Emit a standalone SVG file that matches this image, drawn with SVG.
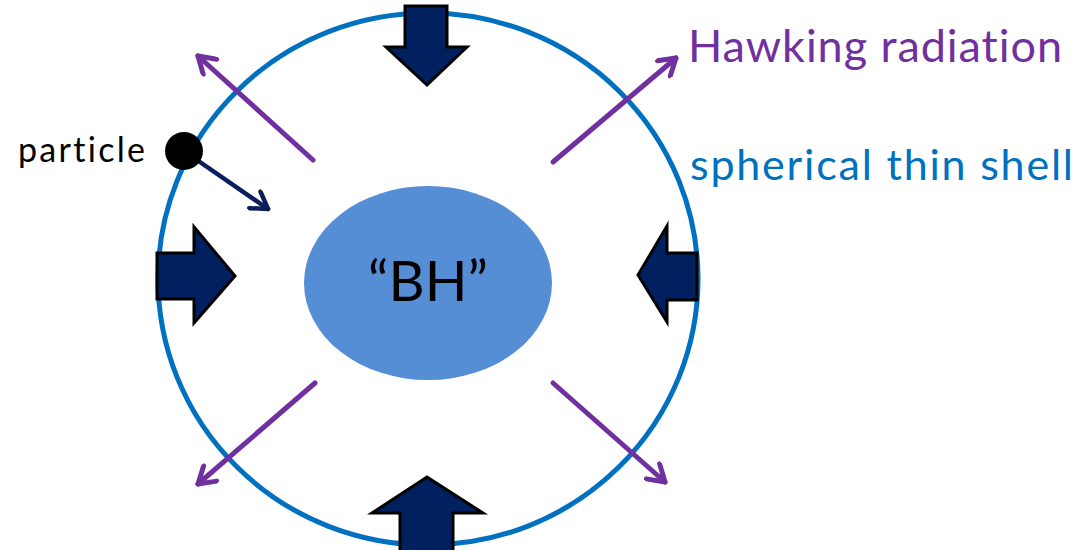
<svg xmlns="http://www.w3.org/2000/svg" width="1080" height="550" viewBox="0 0 1080 550">
<style>
.shell{fill:none;stroke:#0070C0;stroke-width:5}
.push{fill:#002060;stroke:#000;stroke-width:3;stroke-linejoin:miter}
.rad{stroke:#7030A0;stroke-width:5;fill:none;stroke-linecap:round}
.lbl{font-family:Lato,"Open Sans","Liberation Sans",sans-serif;font-variant-ligatures:none}
</style>
<defs>
<marker id="mRad" markerUnits="userSpaceOnUse" viewBox="-20 -12 24 24" refX="0" refY="0" markerWidth="24" markerHeight="24" orient="auto">
<polyline points="-16,-10 0,0 -16,10" fill="none" stroke="#7030A0" stroke-width="5" stroke-linecap="round" stroke-linejoin="round"/>
</marker>
<marker id="mNavy" markerUnits="userSpaceOnUse" viewBox="-20 -12 24 24" refX="0" refY="0" markerWidth="24" markerHeight="24" orient="auto">
<polyline points="-16,-10 0,0 -16,10" fill="none" stroke="#0C1F5C" stroke-width="4.5" stroke-linecap="round" stroke-linejoin="round"/>
</marker>
</defs>
<rect width="1080" height="550" fill="#fff"/>
<g id="shell">
<ellipse class="shell" cx="428" cy="279" rx="270" ry="266"/>
</g>
<g id="bh">
<ellipse cx="428" cy="283" rx="124" ry="97" fill="#558ED5"/>
<text class="lbl" x="428" y="301" font-size="56" text-anchor="middle" fill="#000">“BH”</text>
</g>
<g id="compression">
<polygon class="push" points="405,6 447,6 447,47 467,47 427,85 386,47 405,47"/>
<polygon class="push" points="157,253 194,253 194,227 235,276 194,323 194,299 157,299"/>
<polygon class="push" points="697,253 667,253 667,226 638,275 667,322 667,300 697,300"/>
<polygon class="push" points="400,552 453,552 453,513 483,513 427,477 372,513 400,513"/>
</g>
<g id="connectors">
<line class="rad" x1="313" y1="160" x2="198" y2="56" marker-end="url(#mRad)"/>
<line class="rad" x1="553" y1="162" x2="676" y2="58" marker-end="url(#mRad)"/>
<line class="rad" x1="553" y1="383" x2="665" y2="482" marker-end="url(#mRad)"/>
<line class="rad" x1="315" y1="383" x2="198" y2="484" marker-end="url(#mRad)"/>
<line x1="184" y1="151" x2="268" y2="209" stroke="#0C1F5C" stroke-width="4.5" stroke-linecap="round" marker-end="url(#mNavy)"/>
</g>
<g id="particle">
<circle cx="184" cy="151" r="19" fill="#000"/>
<text class="lbl" x="18" y="162" font-size="34" textLength="127" lengthAdjust="spacing" fill="#000">particle</text>
</g>
<g id="labels">
<text class="lbl" x="688" y="62" font-size="45" textLength="374" lengthAdjust="spacing" fill="#7030A0">Hawking radiation</text>
<text class="lbl" x="690" y="180" font-size="43" textLength="383" lengthAdjust="spacing" fill="#0070C0">spherical thin shell</text>
</g>
</svg>
